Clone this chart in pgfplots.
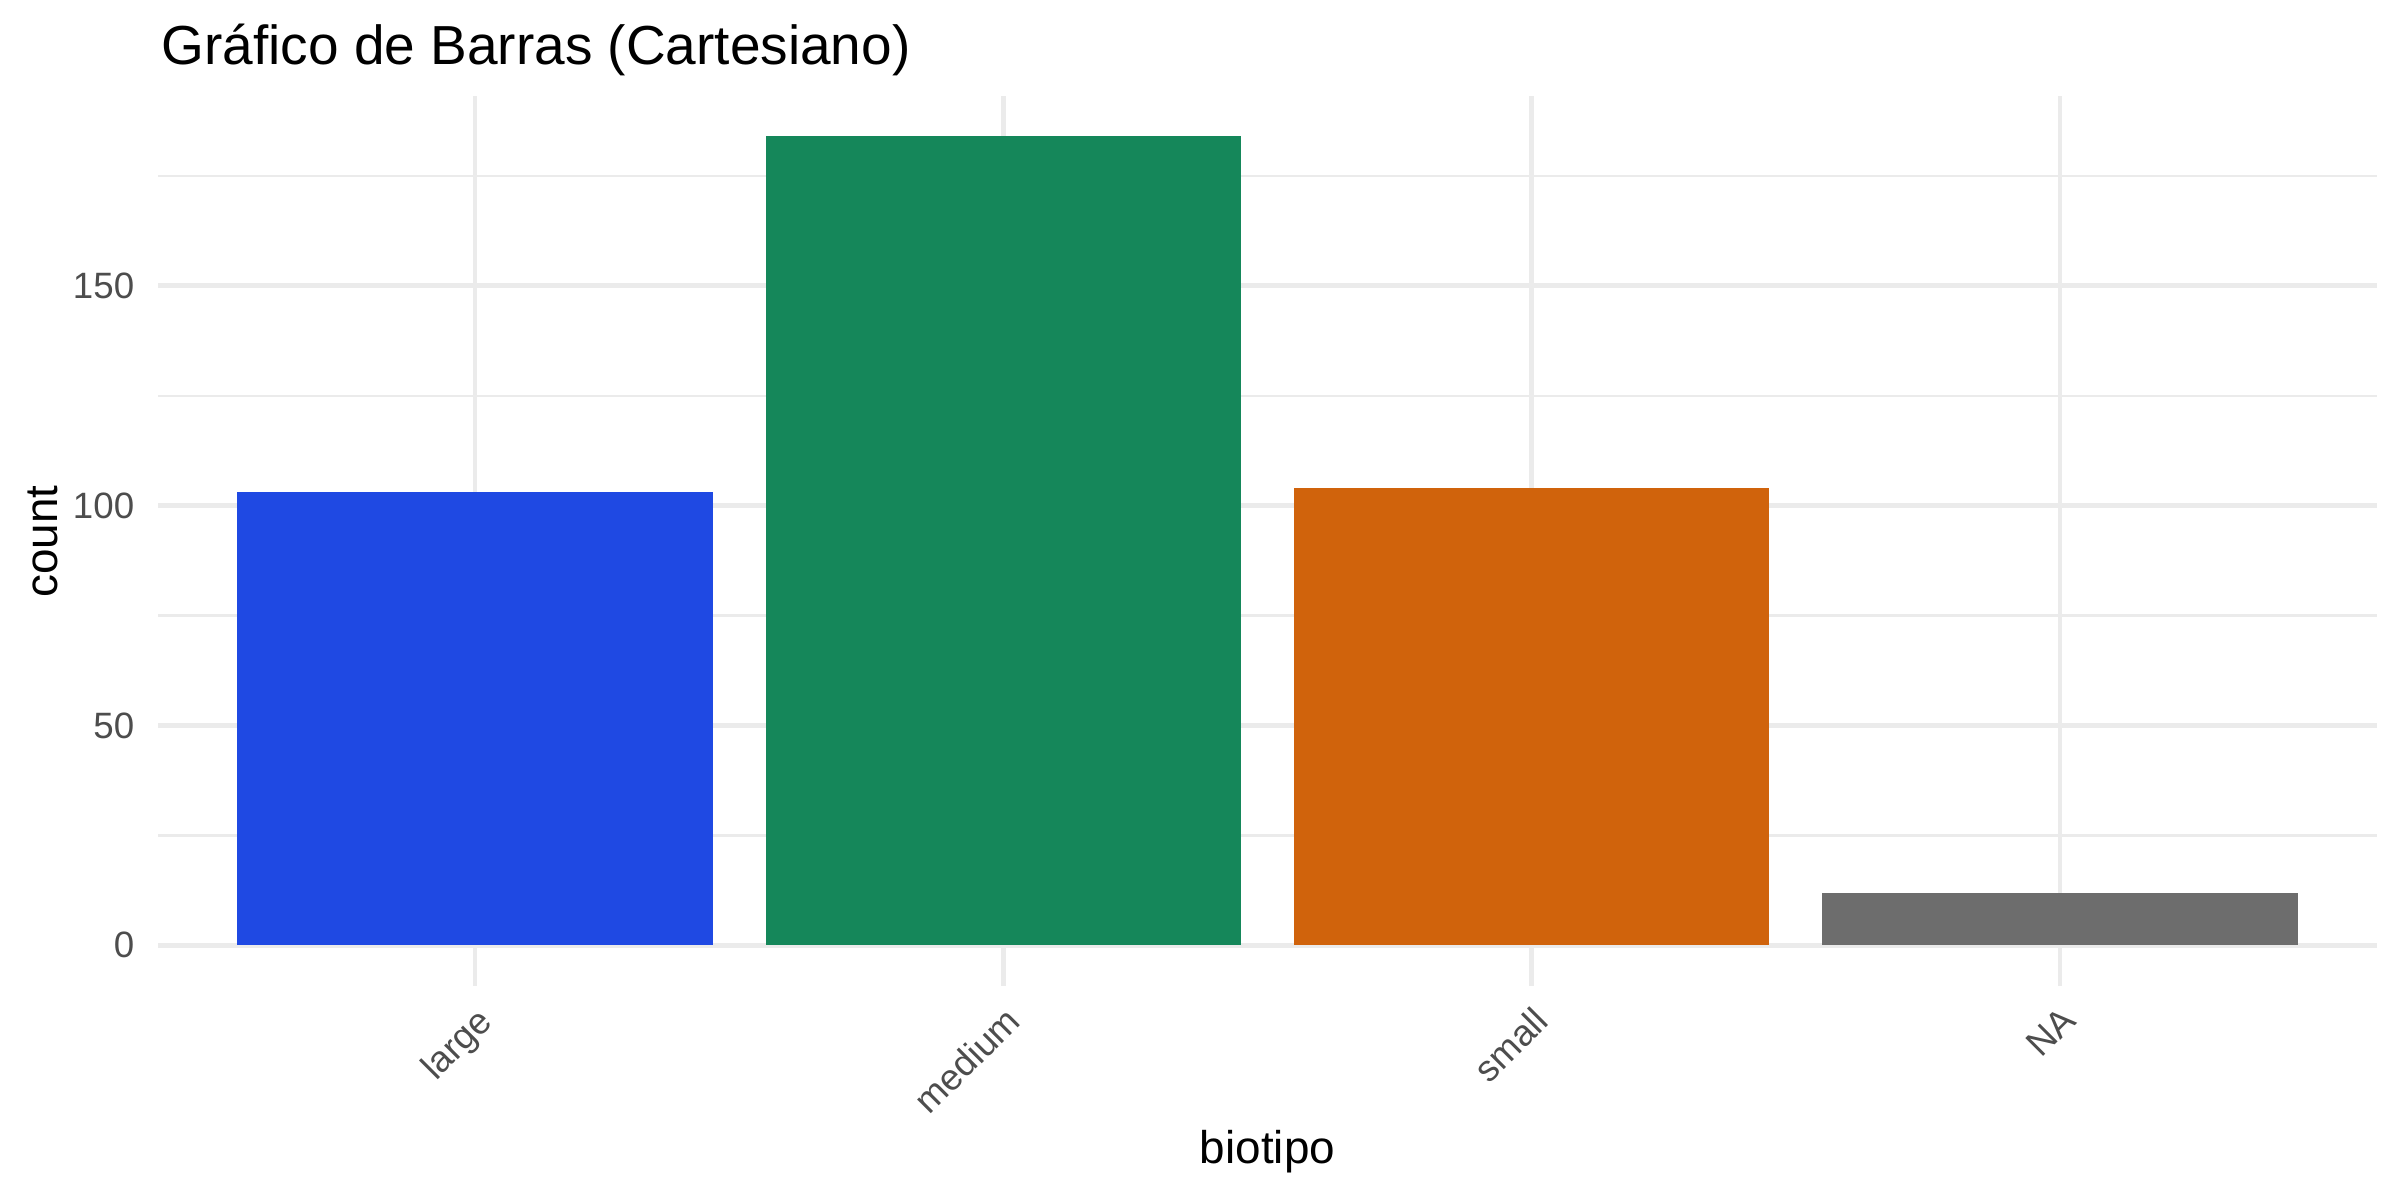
\documentclass[border=0pt]{standalone}
\usepackage{pgfplots}
\pgfplotsset{compat=1.18}
\usepackage{fontspec}
\setmainfont{Liberation Sans}
\definecolor{cLarge}{HTML}{1F49E3}
\definecolor{cMedium}{HTML}{15875A}
\definecolor{cSmall}{HTML}{D0630C}
\definecolor{cNA}{HTML}{6D6D6D}
\definecolor{gridc}{HTML}{EBEBEB}
\definecolor{tickc}{HTML}{4D4D4D}
\begin{document}
\begin{tikzpicture}[x=1pt,y=1pt]
\path[use as bounding box] (0,0) rectangle (576,288);
\begin{axis}[
  at={(37.9pt,51.4pt)}, anchor=south west,
  scale only axis, width=532.6pt, height=213.6pt,
  xmin=0.4, xmax=4.6, ymin=-9.2, ymax=193.2,
  axis line style={draw=none},
  major tick length=0pt, minor tick length=0pt,
  xtick={1,2,3,4}, xticklabels={large,medium,small,NA},
  ytick={0,50,100,150}, minor ytick={25,75,125,175},
  xmajorgrids, ymajorgrids, yminorgrids,
  major grid style={draw=gridc, line width=1.1pt},
  minor grid style={draw=gridc, line width=0.55pt},
  /pgf/number format/assume math mode=true,
  ticklabel style={font=\fontsize{8.8}{10}\selectfont, text=tickc},
  yticklabel style={anchor=east, inner sep=0pt, xshift=-5.5pt},
  xticklabel style={xshift=0pt, yshift=-4.3pt, rotate=45, anchor=north east, inner sep=0pt},
  clip=false,
]
\addplot[ybar, bar width=0.9, bar shift=0pt, fill=cLarge, draw=none] coordinates {(1,103)};
\addplot[ybar, bar width=0.9, bar shift=0pt, fill=cMedium, draw=none] coordinates {(2,184)};
\addplot[ybar, bar width=0.9, bar shift=0pt, fill=cSmall, draw=none] coordinates {(3,104)};
\addplot[ybar, bar width=0.9, bar shift=0pt, fill=cNA, draw=none] coordinates {(4,12)};
\end{axis}
\node[anchor=base west, inner sep=0pt, font=\fontsize{13.2}{16}\selectfont] at (38.6,272.6) {Gráfico de Barras (Cartesiano)};
\node[rotate=90, inner sep=0pt, font=\fontsize{11}{13}\selectfont] at (10.3,158) {count};
\node[inner sep=0pt, font=\fontsize{11}{13}\selectfont] at (304.2,11.5) {biotipo};
\end{tikzpicture}
\end{document}
